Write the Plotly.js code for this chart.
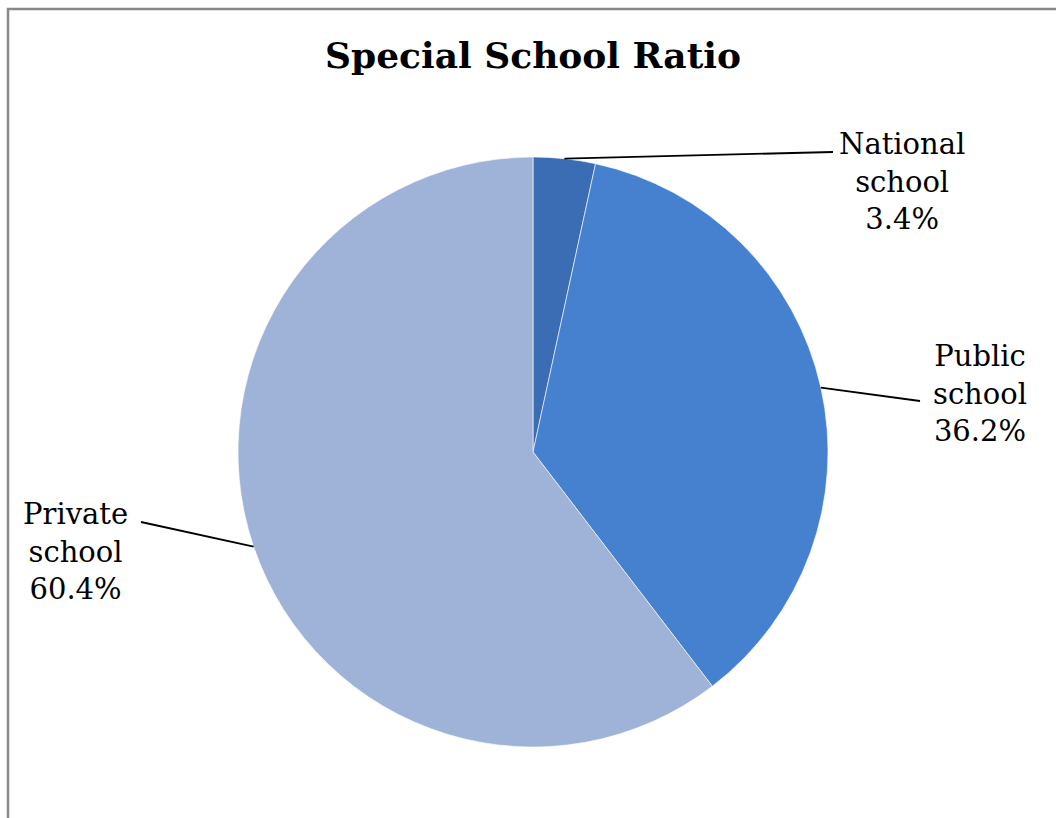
<!DOCTYPE html>
<html>
<head>
<meta charset="utf-8">
<script src="https://cdn.plot.ly/plotly-3.0.1.min.js"></script>
<style>
  html, body { margin: 0; padding: 0; background: #ffffff; }
  #chart { width: 1056px; height: 818px; }
</style>
</head>
<body>
<div id="chart"></div>
<script>
// ---- Data ----
const categories = ['National school', 'Public school', 'Private school'];
const labelLines = [['National', 'school'], ['Public', 'school'], ['Private', 'school']];
const values = [3.4, 36.2, 60.4];
const sliceColors = ['#3a6db3', '#4581cf', '#9fb2d8'];
const chartTitle = 'Special School Ratio';

// ---- Layout geometry (pixels) ----
const FIG_W = 1056, FIG_H = 818;
const M = { l: 238, r: 228, t: 157, b: 71 };
const PW = FIG_W - M.l - M.r;   // 590
const PH = FIG_H - M.t - M.b;   // 590
const CX = M.l + PW / 2, CY = M.t + PH / 2, R = Math.min(PW, PH) / 2;

// label block centre and leader-line end (pixels)
const labelPlace = [
  { tx: 902, ty: 181, lx: 833, ly: 152 },
  { tx: 980, ty: 393, lx: 920, ly: 401 },
  { tx: 75,  ty: 551, lx: 141, ly: 522 }
];

const toPX = px => (px - M.l) / PW;
const toPY = py => 1 - (py - M.t) / PH;

// mid-angle of each slice, clockwise from 12 o'clock
const total = values.reduce((a, b) => a + b, 0);
let cum = 0;
const shapes = [];
const annotations = [];
values.forEach((v, i) => {
  const mid = (cum + v / 2) / total * 2 * Math.PI;
  cum += v;
  const ex = CX + R * Math.sin(mid);
  const ey = CY - R * Math.cos(mid);
  const p = labelPlace[i];
  shapes.push({
    type: 'line', xref: 'paper', yref: 'paper',
    x0: toPX(ex), y0: toPY(ey), x1: toPX(p.lx), y1: toPY(p.ly),
    line: { color: '#000000', width: 1.8 }
  });
  annotations.push({
    xref: 'paper', yref: 'paper', x: toPX(p.tx), y: toPY(p.ty),
    xanchor: 'center', yanchor: 'middle', showarrow: false, align: 'center',
    text: labelLines[i].join('<br>') + '<br>' + v.toFixed(1) + '%',
    font: { family: 'DejaVu Serif, serif', size: 29, color: '#000000' }
  });
});

// outer frame (grey border on left and top, running off the right/bottom)
shapes.push({
  type: 'rect', xref: 'paper', yref: 'paper', layer: 'below',
  x0: toPX(8), y0: toPY(9), x1: toPX(1070), y1: toPY(830),
  line: { color: '#888888', width: 2.5 }, fillcolor: 'rgba(0,0,0,0)'
});

const trace = {
  type: 'pie',
  labels: categories,
  values: values,
  sort: false,
  direction: 'clockwise',
  rotation: 0,
  textinfo: 'none',
  hoverinfo: 'label+percent',
  marker: { colors: sliceColors, line: { color: 'rgba(255,255,255,0.6)', width: 1 } },
  showlegend: false
};

const layout = {
  width: FIG_W, height: FIG_H,
  margin: M,
  paper_bgcolor: '#ffffff',
  plot_bgcolor: '#ffffff',
  showlegend: false,
  title: {
    text: '<b>' + chartTitle + '</b>',
    xref: 'paper', x: 0.5, xanchor: 'center',
    yref: 'container', y: 1 - 55 / FIG_H, yanchor: 'middle',
    font: { family: 'DejaVu Serif, serif', size: 36, color: '#000000' }
  },
  shapes: shapes,
  annotations: annotations
};

Plotly.newPlot('chart', [trace], layout, { displayModeBar: false, staticPlot: true });
</script>
</body>
</html>
